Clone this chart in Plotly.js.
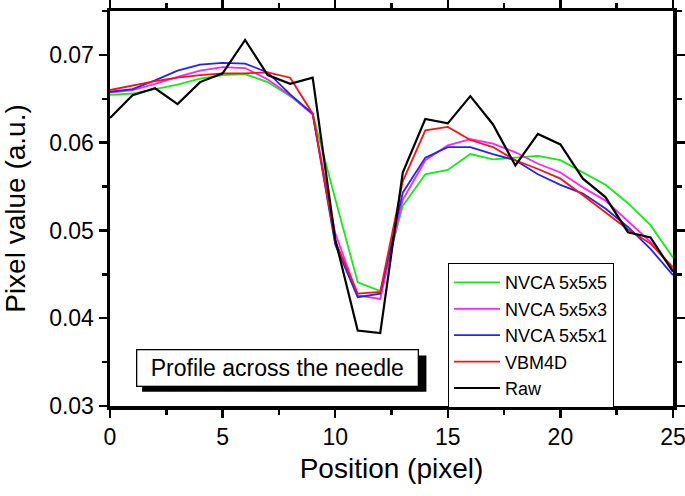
<!DOCTYPE html>
<html>
<head>
<meta charset="utf-8">
<script src="https://cdn.plot.ly/plotly-3.0.1.min.js"></script>
<style>html,body{margin:0;padding:0;background:#fff;}#chart{width:685px;height:496px;}</style>
</head>
<body>
<div id="chart"></div>
<script>
const positions = [0,1,2,3,4,5,6,7,8,9,10,11,12,13,14,15,16,17,18,19,20,21,22,23,24,25];
const nvca555 = [0.06545,0.0656,0.0661,0.0666,0.0673,0.0677,0.0678,0.0669,0.0653,0.0633,0.0536,0.0441,0.0431,0.0528,0.0564,0.0569,0.0587,0.0581,0.0583,0.0585,0.0580,0.0566,0.0552,0.0531,0.0506,0.0469];
const nvca553 = [0.0657,0.0660,0.0667,0.0675,0.0682,0.0686,0.0685,0.0672,0.0654,0.0632,0.0497,0.0426,0.0422,0.0535,0.0580,0.0597,0.0604,0.0599,0.0589,0.0576,0.0566,0.0549,0.0534,0.0511,0.0487,0.0455];
const nvca551 = [0.0658,0.0661,0.0671,0.0682,0.0689,0.0691,0.0690,0.0680,0.0655,0.0633,0.0484,0.0424,0.0428,0.0543,0.0583,0.0595,0.0595,0.0587,0.0580,0.0564,0.0552,0.0542,0.0525,0.0504,0.0479,0.0449];
const vbm4d = [0.0660,0.0665,0.0670,0.0674,0.0677,0.0679,0.0679,0.0680,0.0674,0.0633,0.0488,0.0428,0.0430,0.0556,0.0614,0.0618,0.0603,0.0595,0.0580,0.0570,0.0559,0.0540,0.0521,0.0501,0.0485,0.0458];
const raw = [0.0628,0.0654,0.0662,0.0644,0.0669,0.0679,0.0717,0.0677,0.0667,0.0674,0.0490,0.0386,0.0383,0.0566,0.0627,0.0622,0.0653,0.0621,0.0574,0.0610,0.0598,0.0559,0.0538,0.0498,0.0492,0.0453];
const seriesNames = ['NVCA 5x5x5','NVCA 5x5x3','NVCA 5x5x1','VBM4D','Raw'];
const seriesValues = [nvca555, nvca553, nvca551, vbm4d, raw];
const seriesColors = ['#11ee11','#ff22ff','#2222ff','#ff1111','#000000'];
const seriesWidths = [1.8,1.8,1.8,1.8,2.2];
const boxText = 'Profile across the needle';

const FONT = '"Liberation Sans", Arial, Helvetica, sans-serif';
const traces = seriesNames.map((n,i)=>({
  x: positions, y: seriesValues[i], type:'scatter', mode:'lines', name:n,
  line:{color:seriesColors[i], width:seriesWidths[i]}
}));

const axisCommon = {
  showgrid:false, zeroline:false, showline:true, linecolor:'#000', linewidth:3.5,
  mirror:'allticks', ticks:'outside', tickcolor:'#000', tickwidth:2.5, ticklen:8,
  tickfont:{family:FONT, size:23, color:'#000'}, ticklabeloverflow:'allow'
};

const layout = {
  width:685, height:496,
  margin:{l:110, r:12, t:11, b:90},
  paper_bgcolor:'#fff', plot_bgcolor:'#fff',
  font:{family:FONT, color:'#000'},
  showlegend:true,
  xaxis: Object.assign({}, axisCommon, {
    range:[0,25], dtick:5, tick0:0,
    minor:{dtick:2.5, ticks:'outside', ticklen:5, tickwidth:2.5, tickcolor:'#000'},
    title:{text:'Position (pixel)', font:{family:FONT, size:28, color:'#000'}, standoff:10}
  }),
  yaxis: Object.assign({}, axisCommon, {
    range:[0.03,0.075], dtick:0.01, tick0:0.03, tickformat:'.2f',
    minor:{dtick:0.005, ticks:'outside', ticklen:5, tickwidth:2.5, tickcolor:'#000'},
    title:{text:'Pixel value (a.u.)', font:{family:FONT, size:28, color:'#000'}, standoff:16}
  }),
  legend:{
    x:0.6, y:0.362, xanchor:'left', yanchor:'top',
    bgcolor:'#fff', bordercolor:'#000', borderwidth:1.2,
    font:{family:FONT, size:18, color:'#000'},
    tracegroupgap:0, itemwidth:46, entrywidth:172
  },
  shapes:[{
    type:'rect', xref:'paper', yref:'paper', x0:0.057, x1:0.562, y0:0.036, y1:0.128,
    fillcolor:'#000', line:{width:0}, layer:'above'
  }],
  annotations:[{
    xref:'paper', yref:'paper', x:0.297, y:0.0954, xanchor:'center', yanchor:'middle',
    text:boxText, showarrow:false, font:{family:FONT, size:23, color:'#000'},
    bgcolor:'#fff', bordercolor:'#000', borderwidth:1.3, borderpad:4, width:272, height:27
  }]
};

Plotly.newPlot('chart', traces, layout, {staticPlot:true, displayModeBar:false});
</script>
</body>
</html>
